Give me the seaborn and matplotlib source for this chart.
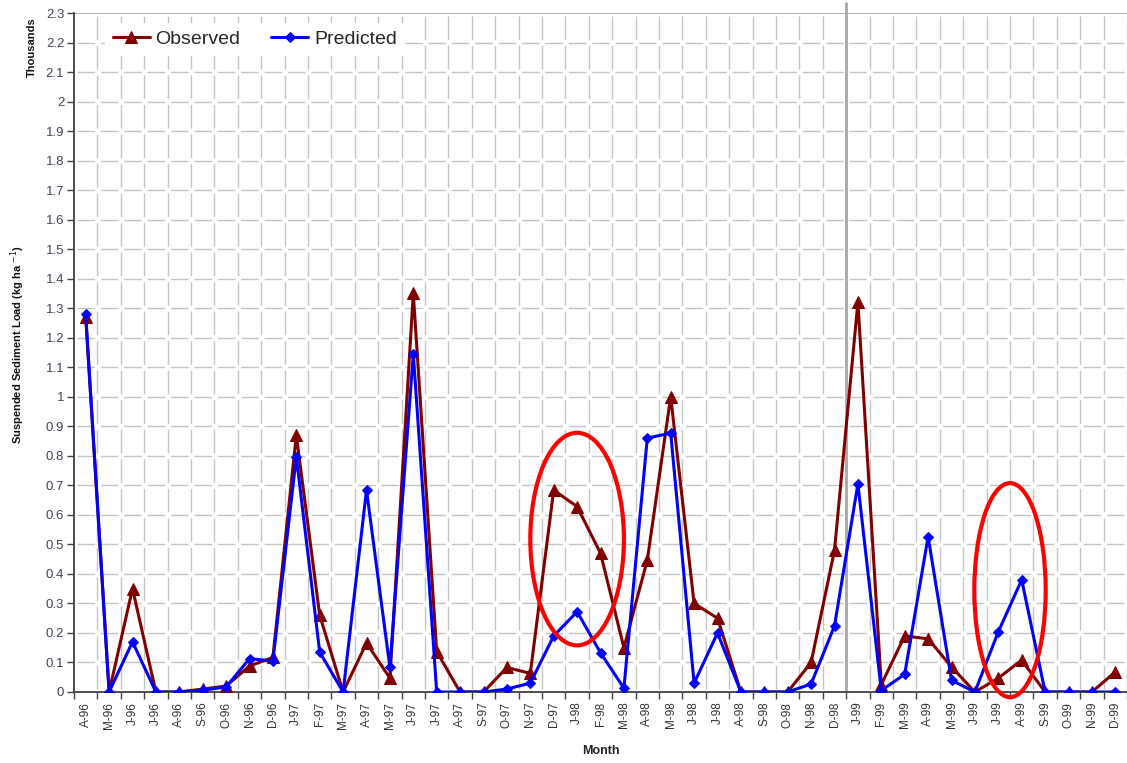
import matplotlib
matplotlib.use("Agg")
import matplotlib.pyplot as plt
from matplotlib.patches import Ellipse
from matplotlib.ticker import FixedLocator
import seaborn as sns
import numpy as np
import pandas as pd

months = ["A-96", "M-96", "J-96", "J-96", "A-96", "S-96", "O-96", "N-96", "D-96",
          "J-97", "F-97", "M-97", "A-97", "M-97", "J-97", "J-97", "A-97", "S-97", "O-97", "N-97", "D-97",
          "J-98", "F-98", "M-98", "A-98", "M-98", "J-98", "J-98", "A-98", "S-98", "O-98", "N-98", "D-98",
          "J-99", "F-99", "M-99", "A-99", "M-99", "J-99", "J-99", "A-99", "S-99", "O-99", "N-99", "D-99"]

observed = [1.27, 0.0, 0.35, 0.0, 0.0, 0.01, 0.02, 0.088, 0.117,
            0.87, 0.26, 0.0, 0.166, 0.047, 1.35, 0.137, 0.0, 0.0, 0.083, 0.063, 0.684,
            0.628, 0.47, 0.15, 0.447, 1.0, 0.30, 0.25, 0.0, 0.0, 0.0, 0.10, 0.48,
            1.32, 0.025, 0.19, 0.18, 0.085, 0.0, 0.047, 0.108, 0.0, 0.0, 0.0, 0.068]

predicted = [1.28, 0.0, 0.17, 0.0, 0.0, 0.006, 0.017, 0.113, 0.105,
             0.797, 0.135, 0.0, 0.684, 0.083, 1.145, 0.0, 0.0, 0.0, 0.01, 0.03, 0.19,
             0.272, 0.133, 0.013, 0.86, 0.877, 0.03, 0.20, 0.0, 0.0, 0.0, 0.027, 0.224,
             0.705, 0.005, 0.06, 0.526, 0.04, 0.0, 0.204, 0.38, 0.0, 0.0, 0.0, 0.0]

y_ticks = [round(0.1 * i, 1) for i in range(24)]

sns.set_theme(style="white")
plt.rcParams['font.family'] = ['Liberation Sans', 'DejaVu Sans']

W, H = 1127, 763
fig = plt.figure(figsize=(W / 100, H / 100), dpi=100)
ax = fig.add_axes([74 / W, 1 - 692 / H, (1127 - 74) / W, (692 - 13) / H])

n = len(months)
xi = np.arange(n)
df = pd.DataFrame({"x": xi, "Observed": observed, "Predicted": predicted})

ax.set_xlim(-0.5, n - 0.5)
ax.set_ylim(0, 2.3)

# grid (Excel-like dashed)
px2pt = 0.72
xcell = (1127 - 74) / n
ycell = (692 - 13) / 23
hgap = 6 * px2pt
hdash = xcell * px2pt - hgap
for yv in y_ticks[1:-1]:
    ax.axhline(yv, color="#c4c4c4", lw=1, zorder=0,
               linestyle=(hdash + hgap / 2, (hdash, hgap)))
vdash = ycell * px2pt - hgap
for xv in np.arange(-0.5, n, 1.0)[1:]:
    ax.axvline(xv, color="#c4c4c4", lw=1, zorder=0,
               linestyle=(vdash + hgap / 2, (vdash, hgap)))
ax.axhline(2.3, color="#a0a0a0", lw=1.2, zorder=1)

# separator line between D-98 and J-99
ax.plot([32.5, 32.5], [0, 2.335], color="#a8a8a8", lw=2, zorder=1, clip_on=False)

sns.lineplot(data=df, x="x", y="Observed", ax=ax, color="#800000", lw=2.2,
             marker="^", markersize=8, markeredgecolor="#800000",
             label="Observed", zorder=3)
sns.lineplot(data=df, x="x", y="Predicted", ax=ax, color="#0000ff", lw=2.2,
             marker="D", markersize=5.5, markeredgecolor="#0000ff",
             label="Predicted", zorder=4)

# red ellipses
ax.add_patch(Ellipse((21.0, 0.518), 4.0, 0.72, fill=False, edgecolor="#ff0000",
                     lw=3, zorder=5, clip_on=False))
ax.add_patch(Ellipse((39.5, 0.345), 3.05, 0.725, fill=False, edgecolor="#ff0000",
                     lw=3, zorder=5, clip_on=False))

# ticks
ax.set_xticks(xi)
ax.set_xticklabels(months, rotation=90, fontsize=8.5, color="#333333")
ax.xaxis.set_minor_locator(FixedLocator(np.arange(-0.5, n, 1.0)))
ax.tick_params(axis="x", which="major", length=0, pad=7)
ax.tick_params(axis="x", which="minor", length=5, width=1, color="#404040",
               direction="out", bottom=True)
ax.set_yticks(y_ticks)
ax.set_yticklabels([f"{v:g}" for v in y_ticks], fontsize=9.5, color="#444455")
ax.tick_params(axis="y", length=5, width=1, color="#404040", direction="out",
               left=True, pad=2)

for s in ["top", "right"]:
    ax.spines[s].set_visible(False)
for s in ["left", "bottom"]:
    ax.spines[s].set_color("#404040")
    ax.spines[s].set_linewidth(1.3)

ax.set_xlabel("Month", fontsize=9, fontweight="bold", color="#222222", labelpad=12)
ax.set_ylabel("")
fig.text(17.5 / W, 1 - 345 / H, "Suspended Sediment Load (kg ha $^{-1}$)",
         rotation=90, ha="center", va="center", fontsize=8, fontweight="bold",
         color="#111111")
fig.text(32 / W, 1 - 47 / H, "Thousands", rotation=90, ha="center", va="center",
         fontsize=8, fontweight="bold", color="#111111")

leg = ax.legend(loc="upper left", bbox_to_anchor=(0.02, 1.0), ncol=2, fontsize=14,
                frameon=True, facecolor="white", edgecolor="none", framealpha=1,
                handlelength=1.9, handletextpad=0.3, columnspacing=1.6,
                borderpad=0.4, fancybox=False)
leg.set_zorder(6)

fig.savefig("out.png", dpi=100)
